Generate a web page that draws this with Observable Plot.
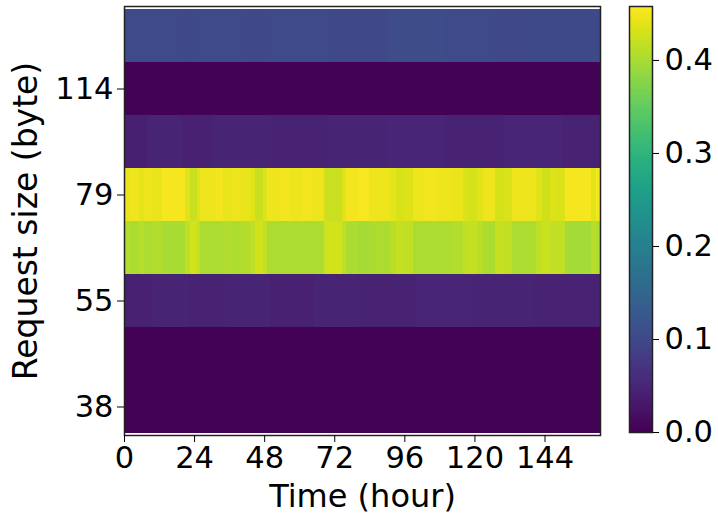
<!DOCTYPE html>
<html>
<head>
<meta charset="utf-8">
<script src="https://cdn.jsdelivr.net/npm/d3@7"></script>
<script src="https://cdn.jsdelivr.net/npm/@observablehq/plot@0.6"></script>
<style>
  html, body { margin: 0; padding: 0; background: #fff; }
  #chart { position: relative; width: 718px; height: 514px; font-family: "DejaVu Sans", sans-serif; }
  #chart svg { position: absolute; top: 0; overflow: visible; }
</style>
</head>
<body>
<div id="chart"></div>
<script>
// Request sizes (rows, top to bottom) and tick labels
const rowSizes = [137, 114, 95, 79, 66, 55, 46, 38];
const yTickLabels = [114, 79, 55, 38];
const xTickLabels = [0, 24, 48, 72, 96, 120, 144];
const colorTicks = [0, 0.1, 0.2, 0.3, 0.4];
const hourSpan = [0, 163];
const colorMax = 0.458;

// Each row as runs of [startHour, endHour, share]
const row137 = [[0,20,0.102],[20,24,0.099],[24,40,0.102],[40,50,0.099],[50,70,0.102],[70,90,0.1],[90,110,0.104],[110,125,0.102],[125,140,0.099],[140,163,0.101]];
const row114 = [[0,163,0.003]];
const row95 = [[0,8,0.04],[8,20,0.045],[20,30,0.042],[30,50,0.046],[50,70,0.043],[70,90,0.045],[90,110,0.048],[110,130,0.044],[130,150,0.047],[150,163,0.043]];
const row79 = [[0,2,0.442],[2,5,0.447],[5,7,0.44],[7,10,0.447],[10,13,0.442],[13,21,0.451],[21,22.5,0.436],[22.5,25,0.42],[25,26,0.434],[26,31,0.447],[31,34,0.45],[34,37,0.443],[37,40,0.447],[40,43,0.442],[43,45,0.435],[45,47.5,0.42],[47.5,49,0.434],[49,53,0.447],[53,57,0.45],[57,61,0.447],[61,64,0.45],[64,68,0.447],[68,69,0.434],[69,74.5,0.42],[74.5,76,0.435],[76,80,0.45],[80,84,0.453],[84,91,0.447],[91,93,0.44],[93,96,0.43],[96,99,0.434],[99,103,0.447],[103,107,0.45],[107,112,0.447],[112,116,0.442],[116,118,0.432],[118,121,0.429],[121,123,0.438],[123,127,0.447],[127,130,0.429],[130,133,0.432],[133,141,0.447],[141,143,0.436],[143,146,0.425],[146,148,0.434],[148,151,0.432],[151,160,0.451],[160,161.5,0.438],[161.5,163,0.45]];
const row66 = [[0,2,0.405],[2,5,0.402],[5,7,0.408],[7,10,0.402],[10,13,0.405],[13,21,0.398],[21,22.5,0.413],[22.5,25,0.426],[25,26,0.415],[26,31,0.402],[31,34,0.399],[34,37,0.404],[37,40,0.402],[40,43,0.406],[43,45,0.412],[45,47.5,0.426],[47.5,49,0.415],[49,53,0.402],[53,57,0.399],[57,61,0.402],[61,64,0.4],[64,68,0.402],[68,69,0.415],[69,74.5,0.426],[74.5,76,0.413],[76,80,0.4],[80,84,0.397],[84,91,0.402],[91,93,0.408],[93,96,0.418],[96,99,0.415],[99,103,0.402],[103,107,0.4],[107,112,0.402],[112,116,0.406],[116,118,0.414],[118,121,0.418],[121,123,0.408],[123,127,0.402],[127,130,0.418],[130,133,0.415],[133,141,0.402],[141,143,0.412],[143,146,0.421],[146,148,0.415],[148,151,0.415],[151,160,0.397],[160,161.5,0.41],[161.5,163,0.4]];
const row55 = [[0,10,0.042],[10,22,0.046],[22,35,0.043],[35,50,0.045],[50,65,0.042],[65,80,0.046],[80,100,0.044],[100,120,0.047],[120,140,0.045],[140,163,0.043]];
const row46 = [[0,163,0.002]];
const row38 = [[0,163,0.002]];

const rows = [row137, row114, row95, row79, row66, row55, row46, row38];
const cells = rows.flatMap((runs, i) => runs.map(([a, b, v]) => ({size: rowSizes[i], x1: a, x2: b, v})));

const font = "DejaVu Sans";
const colorScale = {type: "linear", scheme: "viridis", domain: [0, colorMax]};

const main = Plot.plot({
  width: 718, height: 514,
  marginLeft: 124, marginRight: 118, marginTop: 6, marginBottom: 79,
  style: {fontFamily: font, background: "transparent", color: "#000"},
  x: {domain: hourSpan},
  y: {type: "band", domain: rowSizes, padding: 0},
  color: colorScale,
  marks: [
    Plot.rect(cells, {x1: "x1", x2: "x2", y: "size", fill: "v", shapeRendering: "crispEdges"}),
    Plot.frame({stroke: "#222", strokeWidth: 1.5}),
    Plot.axisX({ticks: xTickLabels, tickSize: 7, tickPadding: 4, fontSize: 30.5, label: null}),
    Plot.axisX({ticks: [], tickSize: 0, fontSize: 32, label: "Time (hour)", labelAnchor: "center", labelOffset: 71, labelArrow: "none"}),
    Plot.axisY({ticks: yTickLabels, tickSize: 7, tickPadding: 4, fontSize: 30.5, label: null}),
    Plot.axisY({ticks: [], tickSize: 0, fontSize: 33, label: "Request size (byte)", labelAnchor: "center", labelOffset: 111, labelArrow: "none"})
  ]
});
main.style.left = "0px";
document.getElementById("chart").appendChild(main);

// Colour bar
const rampStops = d3.range(0, colorMax, colorMax / 200);
const bar = Plot.plot({
  width: 89, height: 514,
  marginLeft: 0, marginRight: 66, marginTop: 6, marginBottom: 82,
  style: {fontFamily: font, background: "transparent", color: "#000"},
  x: {domain: [0, 1], axis: null},
  y: {domain: [0, colorMax]},
  color: colorScale,
  marks: [
    Plot.rect(rampStops, {x1: 0, x2: 1, y1: d => d, y2: d => Math.min(colorMax, d + colorMax / 200 + 0.0005), fill: d => d, shapeRendering: "crispEdges"}),
    Plot.frame({stroke: "#222", strokeWidth: 1.5}),
    Plot.axisY({anchor: "right", ticks: colorTicks, tickFormat: ".1f", tickSize: 6, tickPadding: 6, fontSize: 30.5, label: null})
  ]
});
bar.style.left = "629px";
document.getElementById("chart").appendChild(bar);
</script>
</body>
</html>
